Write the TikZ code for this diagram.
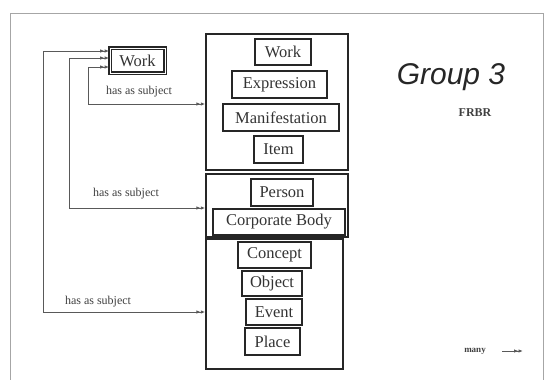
\documentclass[tikz,border=0pt]{standalone}
\usepackage{fontspec}
\setmainfont{Liberation Serif}
\newfontfamily\arialfont{Liberation Sans}
\usetikzlibrary{arrows.meta}
\begin{document}
\begin{tikzpicture}[x=1pt,y=-1pt,
  frame/.style={draw=black!35,line width=1pt},
  bigbox/.style={draw=black!85,line width=1.4pt},
  entity/.style={draw=black!85,line width=1.8pt,inner sep=0pt,font=\fontsize{16.5}{16.5}\selectfont,text=black!80},
  heavy/.style={entity,line width=2.6pt},
  tip/.style={Latex[length=4.5pt,width=3.5pt]},
  conn/.style={draw=black!65,line width=0.9pt,{Latex[length=4.5pt,width=3.5pt] Latex[length=4.5pt,width=3.5pt]}-{Latex[length=4.5pt,width=3.5pt] Latex[length=4.5pt,width=3.5pt]}},
  lbl/.style={font=\fontsize{12}{12}\selectfont,text=black!75,inner sep=0pt}
]
\useasboundingbox (0,0) rectangle (552,380);
% frame
\draw[frame] (10,385) -- (10,13) -- (543,13) -- (543,385);
% big group boxes
\node[bigbox,minimum width=142pt,minimum height=136pt,inner sep=0pt] (g1) at (277,102) {};
\node[bigbox,minimum width=142pt,minimum height=63pt,inner sep=0pt] (g2) at (277,205.5) {};
\node[bigbox,minimum width=137pt,minimum height=130pt,inner sep=0pt] (g3) at (274.5,304) {};
% small work box
\node[entity,double,double distance=1pt,minimum width=55pt,minimum height=25pt] (w0) at (137.5,60.5) {Work};
% group 1 entities
\node[entity,minimum width=56pt,minimum height=26pt] (work) at (283,52) {Work};
\node[entity,minimum width=95pt,minimum height=27pt] (expr) at (279.5,84.5) {Expression};
\node[entity,minimum width=116pt,minimum height=27pt] (mani) at (281,117.5) {Manifestation};
\node[entity,minimum width=49pt,minimum height=27pt] (item) at (278.5,149.5) {Item};
% group 2
\node[entity,minimum width=62pt,minimum height=27pt] (pers) at (282,192.5) {Person};
\node[heavy,minimum width=132pt,minimum height=26pt] (corp) at (279,222) {Corporate Body};
% group 3
\node[entity,minimum width=73pt,minimum height=26pt] (conc) at (274.5,255) {Concept};
\node[entity,minimum width=60pt,minimum height=25pt] (obj) at (272,283.5) {Object};
\node[entity,minimum width=56pt,minimum height=26pt] (evt) at (274,312) {Event};
\node[entity,minimum width=55pt,minimum height=27pt] (plc) at (272.5,341.5) {Place};
% connectors
\draw[conn] (w0.west |- 0,67) -- (88,67) -- (88,104) -- (g1.west |- 0,104);
\draw[conn] (w0.west |- 0,58) -- (69,58) -- (69,208) -- (g2.west |- 0,208);
\draw[conn] (w0.west |- 0,51) -- (43,51) -- (43,312) -- (g3.west |- 0,312);
\node[lbl] (l1) at (139,92) {has as subject};
\node[lbl] (l2) at (126,194) {has as subject};
\node[lbl] (l3) at (98,302) {has as subject};
% title
\node[font=\arialfont\itshape\fontsize{30}{30}\selectfont,text=black!85,inner sep=0pt] (title) at (451,77) {Group 3};
\node[font=\bfseries\fontsize{12}{12}\selectfont,text=black!75,inner sep=0pt] (frbr) at (475,113) {FRBR};
% legend
\node[lbl,font=\bfseries\fontsize{9}{9}\selectfont] (many) at (475,351) {many};
\coordinate (m1) at (502,351);
\coordinate (m2) at (523,351);
\draw[draw=black!65,line width=0.9pt,-{Latex[length=4.5pt,width=3.5pt] Latex[length=4.5pt,width=3.5pt]}] (m1) -- (m2);
\end{tikzpicture}
\end{document}
